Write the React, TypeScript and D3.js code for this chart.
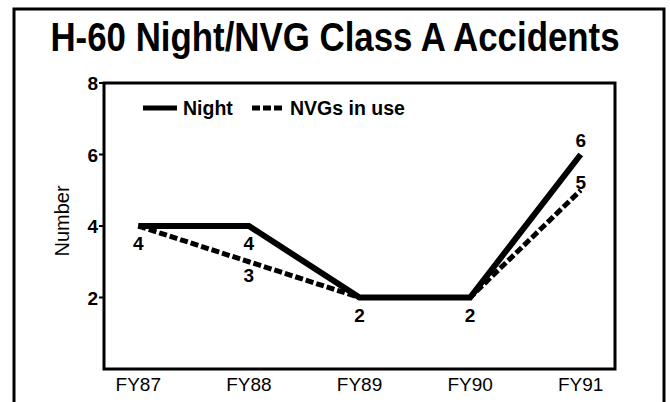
import React from "react";
import * as d3 from "d3";

const categories = ["FY87", "FY88", "FY89", "FY90", "FY91"];
const nightValues = [4, 4, 2, 2, 6];
const nvgValues = [4, 3, 2, 2, 5];
const yTicks = [2, 4, 6, 8];
const title = "H-60 Night/NVG Class A Accidents";
const yLabel = "Number";
const legendLabels = ["Night", "NVGs in use"];

const W = 670;
const H = 402;
const plot = { left: 104, right: 615, top: 83, bottom: 369 };
const FONT = "'Liberation Sans', Arial, Helvetica, sans-serif";

export default function App() {
  const x = d3.scalePoint<string>().domain(categories).range([plot.left, plot.right]).padding(0.31);
  const y = d3.scaleLinear().domain([0, 8]).range([plot.bottom, plot.top]);
  const line = d3
    .line<number>()
    .x((_, i) => x(categories[i]) as number)
    .y((d) => y(d));

  const labels: { v: number[]; i: number; dy: number }[] = [
    { v: nightValues, i: 0, dy: 24 },
    { v: nightValues, i: 1, dy: 24 },
    { v: nvgValues, i: 1, dy: 20 },
    { v: nightValues, i: 2, dy: 24 },
    { v: nightValues, i: 3, dy: 24 },
    { v: nightValues, i: 4, dy: -8 },
    { v: nvgValues, i: 4, dy: -1 },
  ];

  return (
    <svg
      width={W}
      height={H}
      style={{ position: "absolute", left: 0, top: 0, background: "#fff" }}
      fontFamily={FONT}
    >
      <rect x={0} y={0} width={W} height={H} fill="#fff" />
      <rect x={14} y={9} width={650} height={400} fill="none" stroke="#000" strokeWidth={3} />
      <g transform={`translate(${W / 2},51) scale(0.85,1)`}>
        <text x={0} y={0} textAnchor="middle" fontSize={41} fontWeight="bold">
          {title}
        </text>
      </g>

      <rect
        x={plot.left}
        y={plot.top}
        width={plot.right - plot.left}
        height={plot.bottom - plot.top}
        fill="none"
        stroke="#000"
        strokeWidth={3}
      />

      {yTicks.map((t) => (
        <g key={t}>
          <line x1={plot.left - 5} x2={plot.left} y1={y(t)} y2={y(t)} stroke="#000" strokeWidth={2} />
          <text x={plot.left - 6} y={y(t) + 7} textAnchor="end" fontSize={19} fontWeight="bold">
            {t}
          </text>
        </g>
      ))}

      {categories.map((c) => (
        <text key={c} x={x(c)} y={391} textAnchor="middle" fontSize={19}>
          {c}
        </text>
      ))}

      <text transform={`translate(69,221) rotate(-90)`} textAnchor="middle" fontSize={20}>
        {yLabel}
      </text>

      <path d={line(nvgValues) || ""} fill="none" stroke="#000" strokeWidth={5} strokeDasharray="8,3" />
      <path d={line(nightValues) || ""} fill="none" stroke="#000" strokeWidth={6} strokeLinejoin="miter" />

      {labels.map((l, k) => (
        <text
          key={k}
          x={x(categories[l.i])}
          y={y(l.v[l.i]) + l.dy}
          textAnchor="middle"
          fontSize={19}
          fontWeight="bold"
        >
          {l.v[l.i]}
        </text>
      ))}

      <g>
        <line x1={143} x2={177} y1={108} y2={108} stroke="#000" strokeWidth={5} />
        <text x={183} y={115} fontSize={19.5} fontWeight="bold">
          {legendLabels[0]}
        </text>
        <line x1={252} x2={285} y1={108} y2={108} stroke="#000" strokeWidth={5} strokeDasharray="8,3" />
        <text x={290} y={115} fontSize={19.5} fontWeight="bold">
          {legendLabels[1]}
        </text>
      </g>
    </svg>
  );
}
